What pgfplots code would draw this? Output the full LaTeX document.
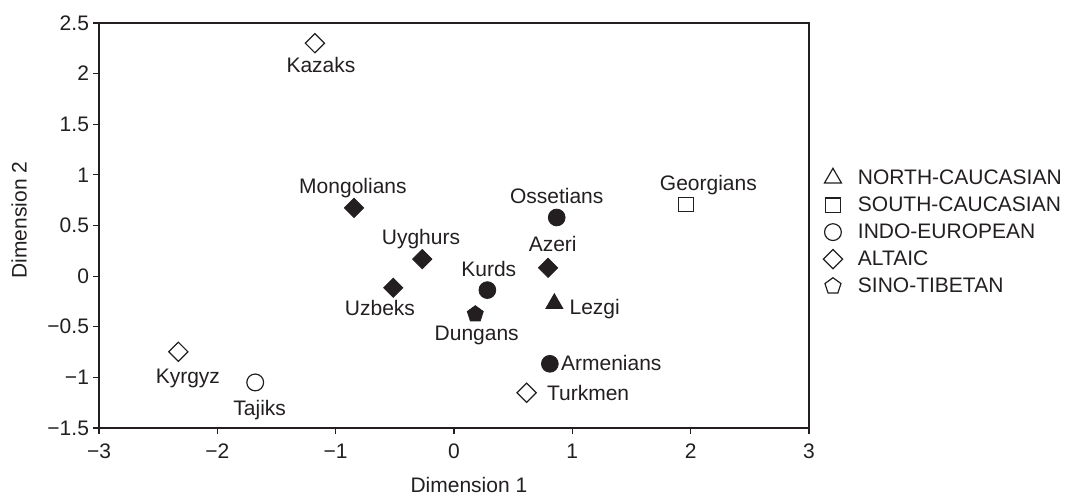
\documentclass[border=0pt]{standalone}
\usepackage{fontspec}
\setmainfont{Liberation Sans}
\usepackage{pgfplots}
\pgfplotsset{compat=1.18}
\definecolor{ink}{HTML}{231F20}
\newcommand{\lf}{\fontsize{10.5}{12}\selectfont}
\begin{document}
\begin{tikzpicture}
\useasboundingbox (0,0) rectangle (534pt,248pt);
\begin{axis}[
  at={(49.5pt,34pt)}, anchor=south west,
  scale only axis, width=355pt, height=202.5pt,
  xmin=-3, xmax=3, ymin=-1.5, ymax=2.5,
  xtick={-3,-2,-1,0,1,2,3},
  ytick={-1.5,-1,-0.5,0,0.5,1,1.5,2,2.5},
  xticklabels={−3,−2,−1,0,1,2,3},
  yticklabels={−1.5,−1,−0.5,0,0.5,1,1.5,2,2.5},
  xtick pos=bottom, ytick pos=left,
  tick align=outside, major tick length=3pt,
  axis line style={ink, line width=0.6pt},
  every tick/.style={ink, line width=0.6pt},
  tick label style={font=\lf, text=ink},
  xticklabel style={yshift=-1.5pt},
  yticklabel style={xshift=1.5pt},
  xlabel={Dimension 1},
  ylabel={Dimension 2},
  xlabel style={font=\lf, text=ink, at={(axis description cs:0.521,0)}, anchor=base, yshift=-32.5pt},
  ylabel style={font=\lf, text=ink, at={(axis description cs:-0.1018,0.5136)}, anchor=base},
  legend style={draw=none, fill=none, font=\lf, text=ink,
    at={(axis description cs:1.005,0.6476)}, anchor=north west,
    inner sep=0pt, row sep=1.5pt,
    nodes={inner sep=1pt, text height=8pt, text depth=2pt},
    cells={anchor=west}},
  clip=false,
]
% legend
\pgfplotsset{mylegimg/.style={legend image code/.code={\path[draw=none,fill=none] (0pt,-0.1pt) rectangle (21.5pt,0.1pt);\draw[mark repeat=2,mark phase=2] plot coordinates {(0pt,0pt)(10pt,0pt)(20pt,0pt)};}}}
\addlegendimage{only marks, mylegimg, mark=triangle, mark size=4.9pt, ink, line width=0.6pt}
\addlegendentry{NORTH-CAUCASIAN}
\addlegendimage{only marks, mylegimg, mark=square, mark size=3.6pt, ink, line width=0.6pt}
\addlegendentry{SOUTH-CAUCASIAN}
\addlegendimage{only marks, mylegimg, mark=o, mark size=4.2pt, ink, line width=0.6pt}
\addlegendentry{INDO-EUROPEAN}
\addlegendimage{only marks, mylegimg, mark=square, mark size=3.4pt, mark options={rotate=45}, ink, line width=0.6pt}
\addlegendentry{ALTAIC}
\addlegendimage{only marks, mylegimg, mark=pentagon, mark size=4.2pt, ink, line width=0.6pt}
\addlegendentry{SINO-TIBETAN}

% Altaic open diamonds
\addplot[forget plot, only marks, mark=square, mark size=3.4pt, mark options={rotate=45, fill=white, draw=ink, line width=0.6pt}]
  coordinates {(-1.175,2.30) (-2.33,-0.747) (0.614,-1.152)};
% Altaic filled diamonds
\addplot[forget plot, only marks, mark=square*, mark size=3.4pt, mark options={rotate=45, fill=ink, draw=ink}]
  coordinates {(-0.845,0.674) (-0.268,0.168) (-0.513,-0.115) (0.795,0.082)};
% Indo-European filled circles
\addplot[forget plot, only marks, mark=*, mark size=4.2pt, mark options={fill=ink, draw=ink}]
  coordinates {(0.282,-0.138) (0.868,0.579) (0.81,-0.866)};
% Indo-European open circle
\addplot[forget plot, only marks, mark=o, mark size=4.2pt, mark options={fill=white, draw=ink, line width=0.6pt}]
  coordinates {(-1.68,-1.05)};
% South-Caucasian open square
\addplot[forget plot, only marks, mark=square, mark size=3.6pt, mark options={fill=white, draw=ink, line width=0.6pt}]
  coordinates {(1.96,0.708)};
% North-Caucasian filled triangle
\addplot[forget plot, only marks, mark=triangle*, mark size=4.9pt, mark options={fill=ink, draw=ink}]
  coordinates {(0.848,-0.271)};
% Sino-Tibetan filled pentagon
\addplot[forget plot, only marks, mark=pentagon*, mark size=4.2pt, mark options={fill=ink, draw=ink}]
  coordinates {(0.18,-0.375)};

% labels
\begin{scope}[every node/.style={font=\lf, text=ink, anchor=base, inner sep=0pt}]
\node at (axis cs:-1.124,2.007) {Kazaks};
\node at (axis cs:-0.854,0.816) {Mongolians};
\node at (axis cs:-0.279,0.313) {Uyghurs};
\node at (axis cs:-0.626,-0.392) {Uzbeks};
\node at (axis cs:0.294,-0.007) {Kurds};
\node at (axis cs:0.192,-0.632) {Dungans};
\node at (axis cs:0.868,0.717) {Ossetians};
\node at (axis cs:0.834,0.240) {Azeri};
\node at (axis cs:1.189,-0.375) {Lezgi};
\node at (axis cs:1.329,-0.935) {Armenians};
\node at (axis cs:1.133,-1.231) {Turkmen};
\node at (axis cs:2.150,0.849) {Georgians};
\node at (axis cs:-2.249,-1.059) {Kyrgyz};
\node at (axis cs:-1.642,-1.372) {Tajiks};
\end{scope}
\end{axis}
\end{tikzpicture}
\end{document}
